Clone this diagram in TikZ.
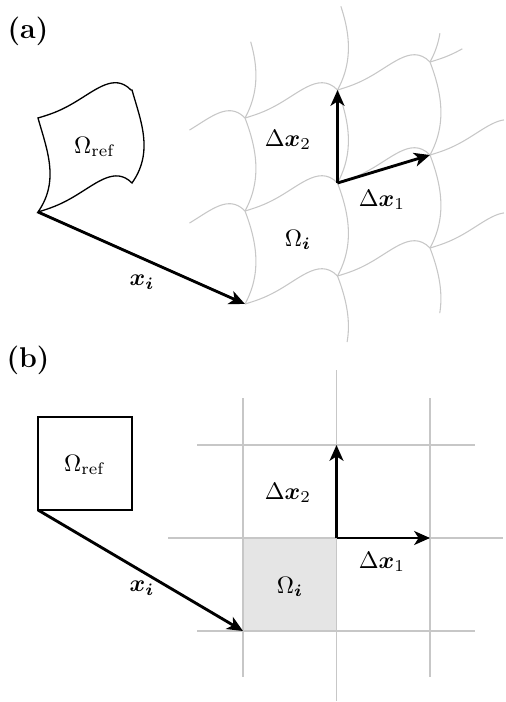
\documentclass[tikz,border=0pt]{standalone}
\usepackage{amsmath, amssymb}
\usetikzlibrary{arrows.meta}
\tikzset{
  gridline/.style={black!22, line width=0.45pt},
  cellfill/.style={fill=black!10},
  refedge/.style={line width=0.55pt},
  vecarrow/.style={-{Stealth[length=6.6pt, width=5.8pt, inset=1.8pt]}, line width=1.2pt},
  panellabel/.style={font=\bfseries\large},
  lbl/.style={inner sep=1pt}
}

\begin{document}
\begin{tikzpicture}[x=0.42pt, y=-0.42pt,
  declare function={bumph(\t)=124*\t^3*(1-\t); bumpv(\t)=51*\t*(1-\t)*(1-0.3*\t);
                    refbump(\t)=66*\t*(1-\t)*(1-0.6*\t);}]
  \useasboundingbox (0,0) rectangle (505,702);

  % (a) distorted grid
  \node[panellabel] (panela) at (28,31) {(a)};
  \foreach \i in {0,1,2}
    \foreach \j in {0,1,2}
      \coordinate (a\i\j) at ({245+92.5*\i},{304-28*\i-93*\j});
  \foreach \j/\segs in {0/{0/0/1,1/0/1,2/0/0.8}, 1/{-1/0.4/1,0/0/1,1/0/1,2/0/0.8}, 2/{-1/0.4/1,0/0/1,1/0/1,2/0/0.35}}
    \foreach \i/\ta/\tb in \segs
      \draw[gridline] plot[domain=\ta:\tb, samples=25] ({245+92.5*(\i+\x)},{304-28*(\i+\x)-93*\j-bumph(\x)});
  \foreach \i/\segs in {0/{0/0/1,1/0/1,2/0/0.82}, 1/{-1/0.29/1,0/0/1,1/0/1,2/0/0.9}, 2/{-1/0.3/1,0/0/1,1/0/1,2/0/0.31}}
    \foreach \j/\ta/\tb in \segs
      \draw[gridline] plot[domain=\ta:\tb, samples=25] ({245+92.5*\i+bumpv(\x)},{304-28*\i-93*(\j+\x)});

  \coordinate (arefo) at (38,212);
  \draw[refedge] plot[domain=0:1, samples=30] ({38+94*\x},{212-29*\x-bumph(\x)})
    -- plot[domain=0:1, samples=30] ({132+refbump(\x)},{183-93*\x})
    -- plot[domain=1:0, samples=30] ({38+93*\x},{118-28*\x-bumph(\x)})
    -- plot[domain=1:0, samples=30] ({38+refbump(\x)},{212-94*\x}) -- cycle;
  \node[lbl] (arefl) at (95,147) {$\Omega_{\mathrm{ref}}$};

  \draw[vecarrow] (arefo) -- (a00);
  \draw[vecarrow] (a11) -- (a12);
  \draw[vecarrow] (a11) -- (a21);
  \node[lbl] (axi) at (142,282) {$\boldsymbol{x}_{\boldsymbol{i}}$};
  \node[lbl] (adx2) at (288,140) {$\Delta\boldsymbol{x}_2$};
  \node[lbl] (adx1) at (382,200) {$\Delta\boldsymbol{x}_1$};
  \node[lbl] (aomi) at (298,240) {$\Omega_{\boldsymbol{i}}$};

  % (b) regular grid
  \node[panellabel] (panelb) at (28,360) {(b)};
  \foreach \i in {0,1,2}
    \foreach \j in {0,1,2}
      \coordinate (b\i\j) at ({243+93.5*\i},{631-93*\j});
  \fill[cellfill] (b00) rectangle (b11);
  \foreach \j/\xa/\xb in {0/197/475, 1/168/503, 2/197/475}
    \draw[gridline] (\xa,{631-93*\j}) -- (\xb,{631-93*\j});
  \foreach \i/\ya/\yb in {0/398/677, 1/370/701, 2/398/677}
    \draw[gridline] ({243+93.5*\i},\ya) -- ({243+93.5*\i},\yb);

  \coordinate (brefo) at (38,510);
  \draw[refedge] (38,417) rectangle (132,510);
  \node[lbl] (brefl) at (85,465) {$\Omega_{\mathrm{ref}}$};

  \draw[vecarrow] (brefo) -- (b00);
  \draw[vecarrow] (b11) -- (b12);
  \draw[vecarrow] (b11) -- (b21);
  \node[lbl] (bxi) at (142,588) {$\boldsymbol{x}_{\boldsymbol{i}}$};
  \node[lbl] (bdx2) at (288,493) {$\Delta\boldsymbol{x}_2$};
  \node[lbl] (bdx1) at (382,562) {$\Delta\boldsymbol{x}_1$};
  \node[lbl] (bomi) at (290,587) {$\Omega_{\boldsymbol{i}}$};
\end{tikzpicture}
\end{document}
